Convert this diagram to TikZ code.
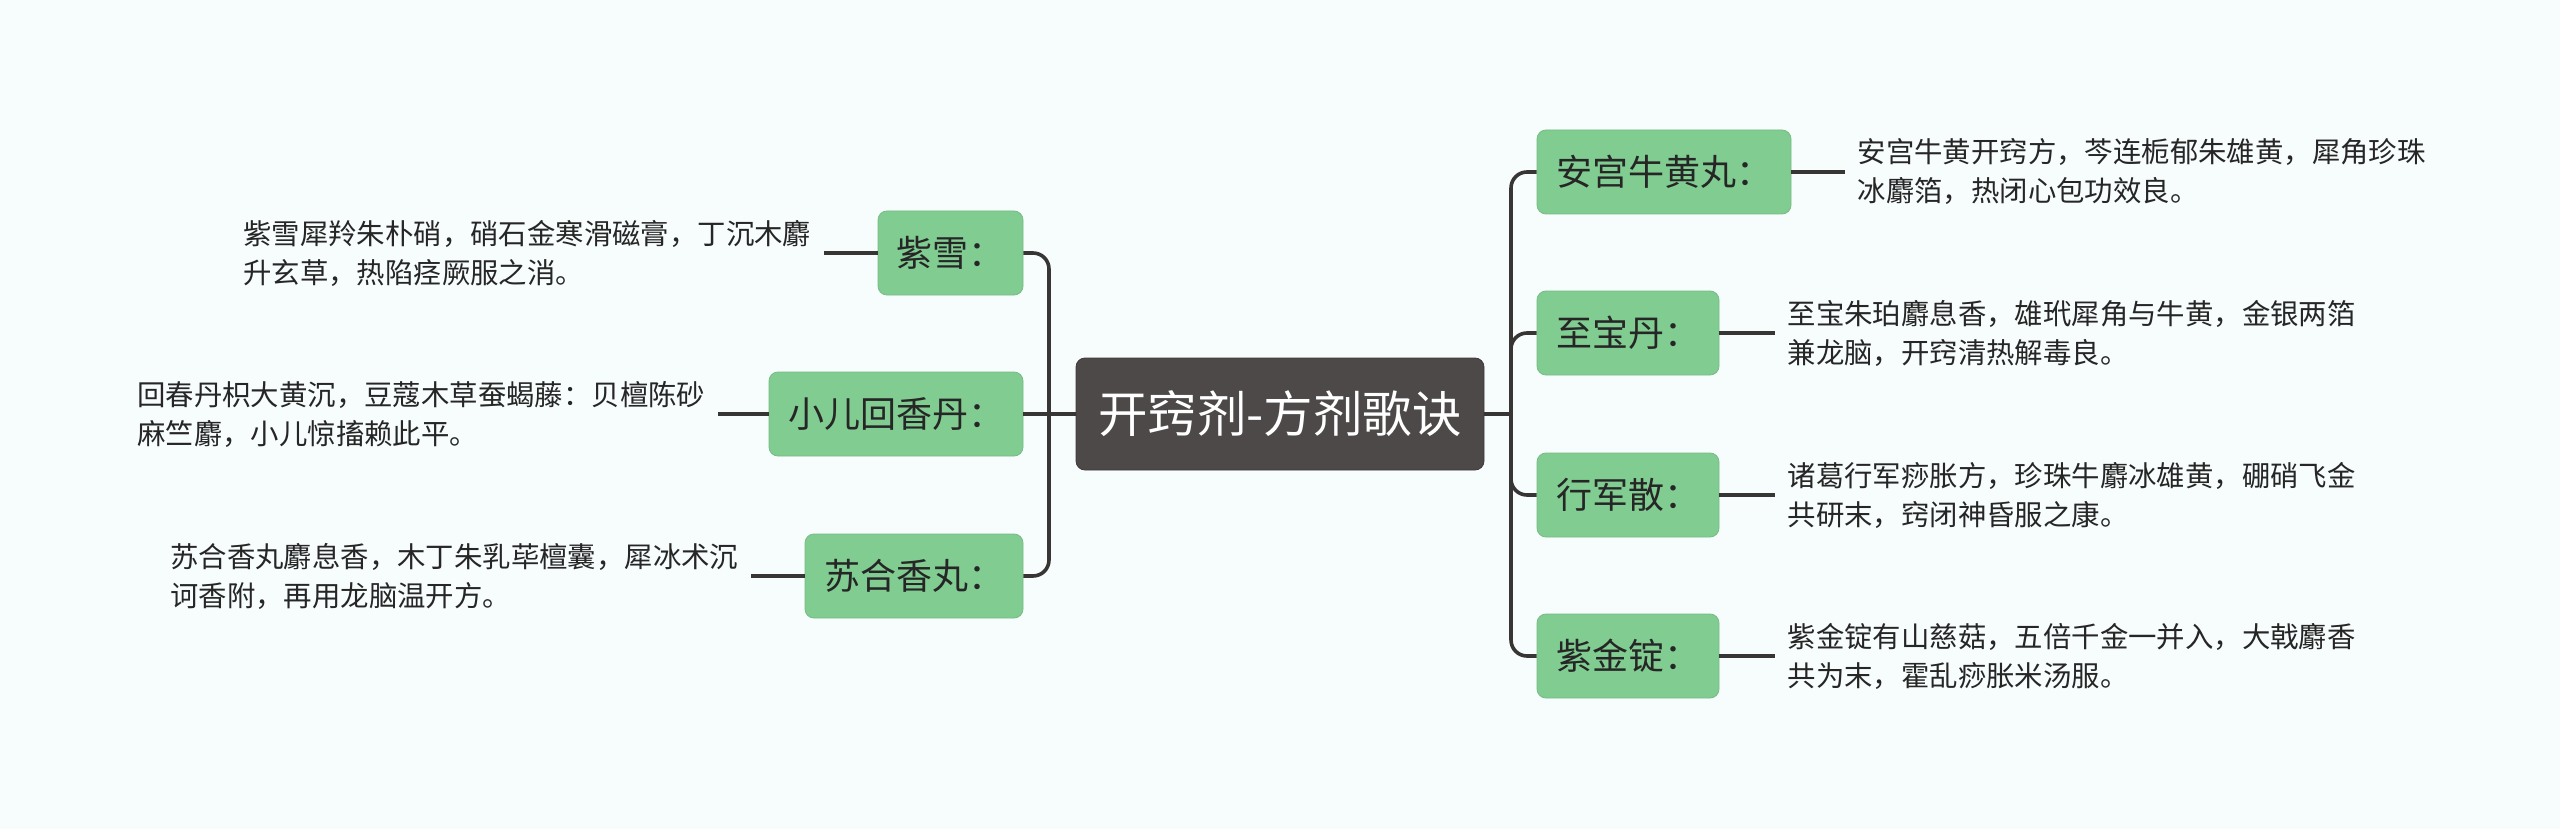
\documentclass[tikz,border=0pt]{standalone}
\usepackage{fontspec}
\newfontfamily\cjk{Noto Sans CJK SC}
\definecolor{bg}{HTML}{F7FCFD}
\definecolor{leaf}{HTML}{80CC91}
\definecolor{rootc}{HTML}{4D4949}
\definecolor{linec}{HTML}{383535}
\definecolor{txt}{HTML}{262626}
\tikzset{
  conn/.style={draw=linec, line width=3.6pt, rounded corners=16pt},
  rootbox/.style={fill=rootc, draw=rootc!80!black, line width=0.8pt, rounded corners=9pt, minimum height=112pt, minimum width=408pt, inner sep=0pt, text=white, font=\cjk\fontsize{49.5}{56}\selectfont},
  catbox/.style={fill=leaf, draw=leaf!92!black, line width=0.8pt, rounded corners=9pt, minimum height=84pt, inner sep=0pt, text=txt, font=\cjk\fontsize{36}{42}\selectfont},
  desc/.style={align=left, inner ysep=0pt, inner xsep=12.5pt, text=txt, font=\cjk\fontsize{28.4}{39}\selectfont}
}
\begin{document}
\begin{tikzpicture}[x=1pt,y=-1pt]
\fill[bg] (0,0) rectangle (2560,829);
\useasboundingbox (0,0) rectangle (2560,829);

\node[rootbox] (c) at (1280,414) {开窍剂-方剂歌诀};

% left
\node[catbox, minimum width=145pt] (zx) at (950.5,253) {紫雪：};
\node[catbox, minimum width=254pt] (xe) at (896,414) {小儿回香丹：};
\node[catbox, minimum width=218pt] (sh) at (914,576) {苏合香丸：};

% right
\node[catbox, minimum width=254pt] (ag) at (1664,172) {安宫牛黄丸：};
\node[catbox, minimum width=182pt] (zb) at (1628,333) {至宝丹：};
\node[catbox, minimum width=182pt] (xj) at (1628,495) {行军散：};
\node[catbox, minimum width=182pt] (zj) at (1628,656) {紫金锭：};

% descriptions
\node[desc, anchor=east] (zxt) at (824,253) {紫雪犀羚朱朴硝，硝石金寒滑磁膏，丁沉木麝\\升玄草，热陷痉厥服之消。};
\node[desc, anchor=east] (xet) at (718,414) {回春丹枳大黄沉，豆蔻木草蚕蝎藤：贝檀陈砂\\麻竺麝，小儿惊搐赖此平。};
\node[desc, anchor=east] (sht) at (751,576) {苏合香丸麝息香，木丁朱乳荜檀囊，犀冰术沉\\诃香附，再用龙脑温开方。};
\node[desc, anchor=west] (agt) at (1845,172) {安宫牛黄开窍方，芩连栀郁朱雄黄，犀角珍珠\\冰麝箔，热闭心包功效良。};
\node[desc, anchor=west] (zbt) at (1775,333) {至宝朱珀麝息香，雄玳犀角与牛黄，金银两箔\\兼龙脑，开窍清热解毒良。};
\node[desc, anchor=west] (xjt) at (1775,495) {诸葛行军痧胀方，珍珠牛麝冰雄黄，硼硝飞金\\共研末，窍闭神昏服之康。};
\node[desc, anchor=west] (zjt) at (1775,656) {紫金锭有山慈菇，五倍千金一并入，大戟麝香\\共为末，霍乱痧胀米汤服。};

% trunks
\coordinate (lt) at (1049,414);
\coordinate (rt) at (1511,414);
\draw[conn] (c.west) -- (lt);
\draw[conn] (lt) |- (zx.east);
\draw[conn] (lt) |- (sh.east);
\draw[conn] (lt) -- (xe.east);
\draw[conn] (c.east) -- (rt);
\draw[conn] (rt) |- (ag.west);
\draw[conn] (rt) |- (zb.west);
\draw[conn] (rt) |- (xj.west);
\draw[conn] (rt) |- (zj.west);

% leaves
\draw[conn] (zx.west) -- (zxt.east);
\draw[conn] (xe.west) -- (xet.east);
\draw[conn] (sh.west) -- (sht.east);
\draw[conn] (ag.east) -- (agt.west);
\draw[conn] (zb.east) -- (zbt.west);
\draw[conn] (xj.east) -- (xjt.west);
\draw[conn] (zj.east) -- (zjt.west);
\end{tikzpicture}
\end{document}
